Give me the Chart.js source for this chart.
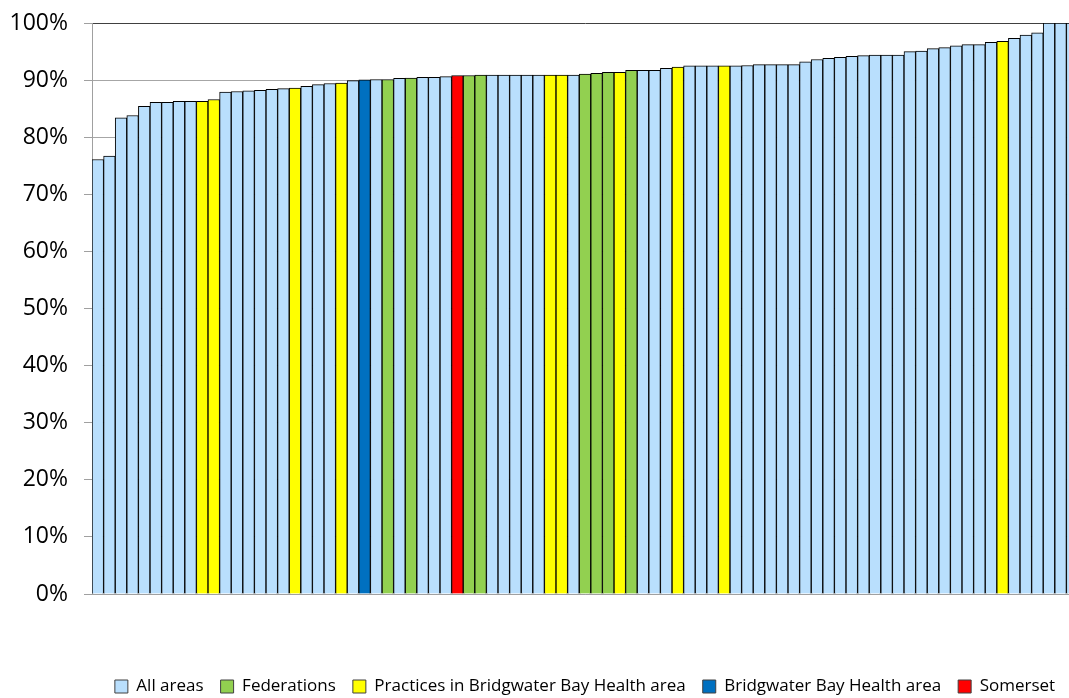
<!DOCTYPE html>
<html>
<head>
<meta charset="utf-8">
<script src="https://cdn.jsdelivr.net/npm/chart.js@4/dist/chart.umd.min.js"></script>
<style>
  html, body { margin: 0; padding: 0; background: #fff; overflow: hidden; }
  #wrap { width: 1078px; height: 698px; }
</style>
</head>
<body>
<div id="wrap"><canvas id="chart" width="1078" height="698"></canvas></div>
<script>
// percentages per practice, sorted ascending
const values = [
    76.1, 76.7, 83.4, 83.8, 85.4, 86.1, 86.1, 86.3, 86.3, 86.3,
    86.6, 87.9, 88.0, 88.1, 88.2, 88.4, 88.5, 88.6, 88.9, 89.2,
    89.4, 89.5, 89.9, 90.05, 90.1, 90.1, 90.3, 90.35, 90.5, 90.5,
    90.6, 90.8, 90.8, 90.9, 90.9, 90.9, 90.9, 90.9, 90.9, 90.9,
    90.9, 90.9, 91.05, 91.2, 91.35, 91.35, 91.7, 91.7, 91.7, 92.05,
    92.3, 92.5, 92.5, 92.5, 92.5, 92.5, 92.55, 92.7, 92.7, 92.7,
    92.7, 93.2, 93.6, 93.8, 94.0, 94.15, 94.3, 94.4, 94.4, 94.4,
    95.0, 95.1, 95.5, 95.7, 96.0, 96.2, 96.2, 96.6, 96.8, 97.3,
    97.9, 98.3, 100, 100, 100
];

// group of each bar: A = all areas, F = federation, P = BBH practice, B = BBH area, S = Somerset
const groups = [
    'A','A','A','A','A','A','A','A','A','P',
    'P','A','A','A','A','A','A','P','A','A',
    'A','P','A','B','A','F','A','F','A','A',
    'A','S','F','F','A','A','A','A','A','P',
    'P','A','F','F','F','P','F','A','A','A',
    'P','A','A','A','P','A','A','A','A','A',
    'A','A','A','A','A','A','A','A','A','A',
    'A','A','A','A','A','A','A','A','P','A',
    'A','A','A','A','A'
];

const seriesKeys = ['A', 'F', 'P', 'B', 'S'];
const seriesNames = ['All areas', 'Federations', 'Practices in Bridgwater Bay Health area', 'Bridgwater Bay Health area', 'Somerset'];
const seriesColors = ['#b9dffd', '#92d050', '#ffff00', '#0070c0', '#ff0000'];

const yTicks = [0, 10, 20, 30, 40, 50, 60, 70, 80, 90, 100];

const labels = values.map((v, i) => 'P' + (i + 1));

const datasets = seriesKeys.map((key, k) => ({
    label: seriesNames[k],
    data: values.map((v, i) => groups[i] === key ? v : null),
    backgroundColor: seriesColors[k],
    borderColor: '#000000',
    borderWidth: 1,
    borderSkipped: 'bottom',
    barPercentage: 1.0,
    categoryPercentage: 1.0
}));

const ctx = document.getElementById('chart').getContext('2d');
new Chart(ctx, {
    type: 'bar',
    data: { labels: labels, datasets: datasets },
    options: {
        responsive: false,
        animation: false,
        layout: { padding: { top: 23, right: 0, left: 0, bottom: -7 } },
        plugins: {
            tooltip: { enabled: false },
            legend: {
                position: 'bottom',
                fullSize: false,
                labels: {
                    font: { family: 'Open Sans', size: 17 },
                    color: '#000',
                    boxWidth: 13,
                    boxHeight: 13,
                    padding: 17,
                    generateLabels: function(chart) {
                        return chart.data.datasets.map((ds, i) => ({
                            text: ds.label,
                            fillStyle: ds.backgroundColor,
                            strokeStyle: '#404040',
                            lineWidth: 1,
                            datasetIndex: i
                        }));
                    }
                }
            }
        },
        scales: {
            x: {
                stacked: true,
                grid: { display: false },
                border: { display: true, color: '#a0a0a0', width: 1 },
                ticks: { display: false },
                afterFit: function(scale) { scale.height = 67; }
            },
            y: {
                stacked: true,
                min: 0,
                max: 100,
                afterBuildTicks: function(scale) {
                    scale.ticks = yTicks.map(v => ({ value: v }));
                },
                afterFit: function(scale) {
                    scale.width = 92;
                    scale.paddingTop = 0;
                    scale.paddingBottom = 0;
                },
                grid: {
                    color: c => c.tick && c.tick.value === 100 ? '#404040' : '#a6a6a6',
                    tickColor: '#a0a0a0',
                    tickLength: 8,
                    lineWidth: 1
                },
                border: { display: true, color: '#a0a0a0', width: 1 },
                ticks: {
                    color: '#000',
                    padding: 16,
                    font: { family: 'Open Sans', size: 23 },
                    callback: v => v + '%'
                }
            }
        }
    }
});
</script>
</body>
</html>
